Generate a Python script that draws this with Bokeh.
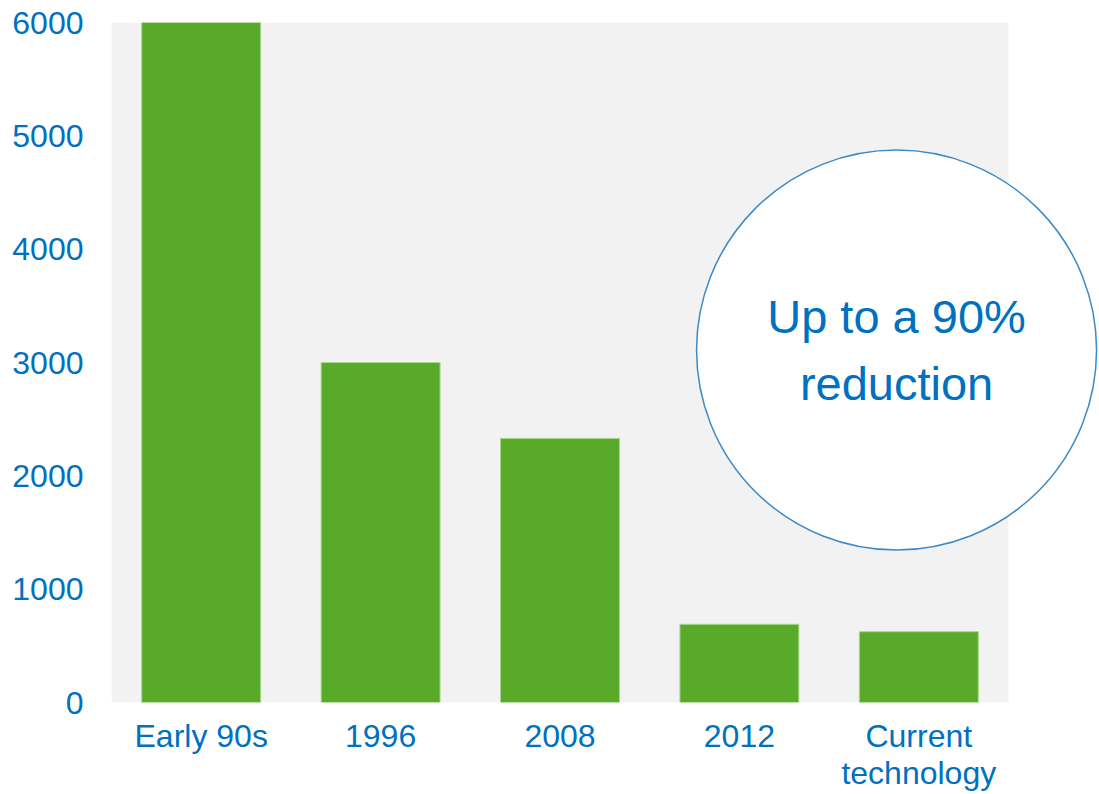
from bokeh.plotting import figure
from bokeh.models import Range1d, FixedTicker
from bokeh.core.properties import value
from bokeh.embed import file_html
from bokeh.resources import INLINE

categories = ["Early 90s", "1996", "2008", "2012", "Current\ntechnology"]
values = [6000, 3000, 2330, 690, 625]
y_ticks = [0, 1000, 2000, 3000, 4000, 5000, 6000]
callout_text = "Up to a 90%\nreduction"

FONT = "Liberation Sans"
BLUE = "#0070C0"

n = len(categories)
xs = [i + 0.5 for i in range(n)]

W, H = 1099, 794
p = figure(width=W, height=H, output_backend="svg", toolbar_location=None,
           x_range=Range1d(0, n * 988 / 897), y_range=Range1d(0, max(y_ticks)),
           min_border_left=111, min_border_right=0, min_border_top=22,
           min_border_bottom=91)
p.outline_line_color = None
p.background_fill_color = "white"
p.border_fill_color = "white"
p.xgrid.visible = False
p.ygrid.visible = False

# gray plot-area background
p.quad(left=[0], right=[n], bottom=[0], top=[max(y_ticks)],
       fill_color="#F2F2F2", line_color=None)

p.vbar(x=xs, top=values, bottom=0, width=0.663,
       fill_color="#5AAA2A", line_color="#A8D88C", line_width=1)

# callout circle
cx, cy = 4.376, 3110
p.circle(x=[cx], y=[cy], radius=200, radius_units="screen",
         fill_color="white", line_color="#3A8AC9", line_width=1.5)
p.text(x=[cx], y=[cy], text=[callout_text], text_font=value(FONT),
       text_font_size="47px", text_color=BLUE, text_align="center",
       text_baseline="middle", text_line_height=1.25)

for ax in (p.xaxis[0], p.yaxis[0]):
    ax.axis_line_color = None
    ax.major_tick_line_color = None
    ax.minor_tick_line_color = None
    ax.major_label_text_color = BLUE
    ax.major_label_text_font = FONT
    ax.major_label_text_font_size = "32px"

p.xaxis.ticker = FixedTicker(ticks=xs)
p.xaxis.major_label_overrides = {x: c for x, c in zip(xs, categories)}
p.xaxis.major_label_standoff = 9
p.xaxis.major_label_text_line_height = 1.05

p.yaxis.ticker = FixedTicker(ticks=y_ticks)
p.yaxis.major_label_standoff = 22

open("out.html", "w").write(file_html(p, INLINE))
